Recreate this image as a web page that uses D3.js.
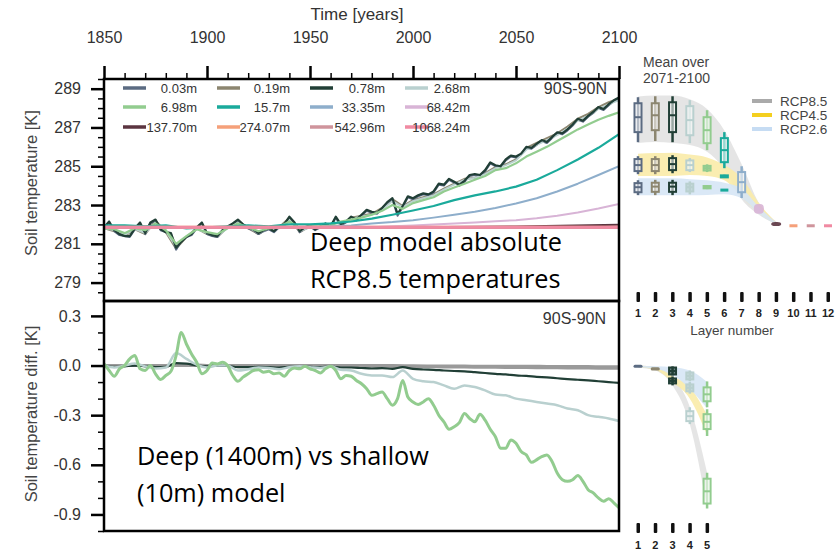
<!DOCTYPE html>
<html><head><meta charset="utf-8">
<script src="https://cdn.jsdelivr.net/npm/d3@7"></script>
<style>body{margin:0;background:#fff}svg{display:block}text{font-family:"Liberation Sans",Arial,sans-serif}</style>
</head><body><svg id="c" width="837" height="555"></svg>
<script>
// ---------------- DATA ----------------
const depthLabels = ["0.03m","0.19m","0.78m","2.68m","6.98m","15.7m","33.35m","68.42m","137.70m","274.07m","542.96m","1068.24m"];
const layerColors = ["#5b6b82","#8c8670","#213f36","#b9d0cf","#92cc8f","#1aaa9b","#8eaecb","#d8b4d6","#5b3440","#f5a07a","#cf949c","#f08aa2"];
const timeTicks = [1850,1900,1950,2000,2050,2100];
const topTicks = [279,281,283,285,287,289];
const botTicks = [-0.9,-0.6,-0.3,0.0,0.3];
const layerNumbers = [1,2,3,4,5,6,7,8,9,10,11,12];
const shallowLayerNumbers = [1,2,3,4,5];
const scenarios = ["RCP8.5","RCP4.5","RCP2.6"];
const scenarioColors = ["#aaaaaa","#f4cf1f","#c6dcf3"];

const yearsFine = d3.range(1850, 2100.1, 2.5);
const years5 = d3.range(1850, 2100.1, 5);
const years10 = d3.range(1850, 2100.1, 10);
const years50 = [1850,1900,1950,2000,2050,2100];

// Top panel: absolute soil temperature [K], RCP8.5, deep model
const t003 = [281.8,282.1,281.65,281.45,281.4,281.35,281.75,282.05,281.5,282.05,
282.2,281.7,281.6,281.5,280.7,281.15,281.35,281.45,281.8,282.05,
281.5,281.4,281.35,281.65,281.85,282.0,282.2,281.95,281.8,281.7,
281.5,281.65,281.75,281.6,281.85,281.95,282.35,282.05,281.6,281.8,
281.9,281.7,281.85,282.0,281.85,282.35,281.95,282.1,282.35,282.2,
282.45,282.7,282.6,282.55,282.8,283.1,283.3,282.45,282.9,283.4,
283.3,283.45,283.55,283.5,283.65,284.05,284.0,284.3,284.15,284.0,
284.2,284.5,284.55,284.5,284.75,285.15,285.0,284.95,285.3,285.5,
285.45,285.6,285.95,285.9,286.1,286.3,286.2,286.45,286.7,286.65,
286.85,287.1,287.4,287.3,287.55,287.75,288.0,287.9,288.15,288.35,
288.5];
const t019 = [281.8,281.65,281.4,281.75,281.5,282.2,281.6,280.75,281.35,281.8,
281.5,281.35,281.85,282.2,281.8,281.5,281.85,281.85,282.35,281.6,
281.9,281.85,281.85,281.95,282.35,282.45,282.55,282.85,283.3,282.95,
283.25,283.4,283.55,283.85,284.1,284.35,284.4,284.65,284.95,285.1,
285.35,285.95,286.2,286.45,286.7,287.05,287.45,287.7,288.05,288.3,
288.5];
const t078 = [281.85,282.15,281.7,281.5,281.4,281.4,281.8,282.1,281.55,282.1,
282.25,281.75,281.6,281.55,280.8,281.1,281.35,281.5,281.85,282.1,
281.55,281.45,281.4,281.7,281.9,282.05,282.25,282.0,281.85,281.75,
281.55,281.7,281.8,281.65,281.9,282.0,282.4,282.1,281.65,281.85,
281.95,281.75,281.9,282.05,281.9,282.4,282.0,282.15,282.4,282.25,
282.5,282.75,282.65,282.6,282.85,283.15,283.35,282.55,282.95,283.45,
283.35,283.5,283.6,283.55,283.7,284.1,284.05,284.35,284.2,284.05,
284.25,284.55,284.6,284.55,284.8,285.2,285.05,285.0,285.35,285.55,
285.5,285.65,286.0,285.95,286.15,286.35,286.25,286.5,286.75,286.7,
286.9,287.15,287.45,287.35,287.6,287.8,288.05,287.95,288.2,288.4,
288.55];
const t268 = [281.8,281.7,281.45,281.75,281.55,282.1,281.65,280.85,281.35,281.75,
281.55,281.4,281.8,282.1,281.85,281.55,281.8,281.8,282.25,281.65,
281.85,281.85,281.85,282.0,282.3,282.4,282.5,282.75,283.2,282.9,
283.2,283.35,283.5,283.8,284.05,284.3,284.4,284.6,284.9,285.05,
285.3,285.85,286.1,286.35,286.6,286.95,287.35,287.6,287.95,288.2,
288.4];
const t698 = [281.8,281.75,281.55,281.8,281.7,282.05,281.7,281.0,281.4,281.75,
281.6,281.5,281.8,282.05,281.85,281.65,281.8,281.85,282.15,281.8,
281.9,281.9,281.95,282.15,282.25,282.35,282.5,282.7,283.0,282.8,
283.1,283.25,283.4,283.7,283.9,284.1,284.3,284.5,284.8,284.9,
285.15,285.5,285.75,286.0,286.3,286.6,286.9,287.15,287.4,287.6,
287.78];
const t157 = [281.95,281.95,281.9,281.95,281.8,281.85,281.9,281.95,281.9,282.0,282.0,282.05,282.15,282.3,282.5,282.72,282.95,283.25,283.5,283.7,283.95,284.3,284.8,285.35,285.95,286.65];
const t3335 = [281.85,281.85,281.85,281.85,281.85,281.85,281.85,281.85,281.85,281.85,281.85,281.9,281.95,282.05,282.12,282.22,282.35,282.5,282.65,282.85,283.08,283.35,283.7,284.1,284.55,285.0];
const t6842 = [281.85,281.85,281.85,281.85,281.85,281.85,281.85,281.85,281.85,281.85,281.85,281.85,281.85,281.85,281.9,281.95,282.0,282.05,282.1,282.16,282.22,282.32,282.45,282.62,282.82,283.05];
const t13770 = [281.84,281.84,281.84,281.85,281.89,281.98];
const t27407 = [281.86,281.86,281.86,281.86,281.86,281.86];
const t54296 = [281.84,281.84,281.84,281.84,281.84,281.84];
const t106824 = [281.85,281.85,281.85,281.85,281.85,281.85];

// Bottom panel: deep minus shallow model difference [K]
const d003 = [0,0,0,0,0,0,0,0,0,0,0,0,0,0,0,-0.002,-0.003,-0.003,-0.004,-0.004,-0.005,-0.005,-0.006,-0.006,-0.007,-0.007];
const d019 = [0,0,0,0,0.005,0,0,0,0,0,0,0,-0.002,-0.004,-0.006,-0.007,-0.008,-0.009,-0.01,-0.011,-0.012,-0.013,-0.014,-0.015,-0.016,-0.017];
const d078 = [0.0,-0.008,-0.005,0.0,-0.005,-0.01,-0.008,0.015,0.012,0.0,
-0.005,0.0,-0.002,-0.01,-0.01,-0.008,-0.01,-0.012,-0.008,-0.006,
-0.008,-0.01,-0.006,-0.012,-0.012,-0.015,-0.018,-0.016,-0.02,-0.01,
-0.02,-0.024,-0.026,-0.03,-0.033,-0.035,-0.04,-0.045,-0.05,-0.054,
-0.06,-0.063,-0.068,-0.072,-0.077,-0.082,-0.086,-0.09,-0.095,-0.1,
-0.105];
const d268 = [0.0,-0.012,0.0,0.012,-0.005,-0.018,-0.012,0.075,0.04,0.005,
-0.012,0.0,0.0,-0.03,-0.022,-0.012,-0.015,-0.022,-0.01,-0.005,
-0.01,-0.015,-0.005,-0.025,-0.03,-0.05,-0.06,-0.06,-0.07,-0.03,
-0.08,-0.095,-0.1,-0.12,-0.14,-0.12,-0.13,-0.15,-0.175,-0.18,
-0.2,-0.21,-0.22,-0.23,-0.24,-0.26,-0.27,-0.3,-0.31,-0.32,
-0.335];
const d698 = [0.01,-0.03,-0.065,-0.02,0.0,0.04,0.06,-0.02,-0.03,0.0,
-0.05,-0.085,-0.06,-0.035,0.06,0.2,0.13,0.07,0.02,-0.05,
-0.03,0.015,0.01,0.02,0.0,-0.06,-0.095,-0.07,-0.05,-0.03,
-0.025,-0.04,-0.035,-0.05,-0.045,-0.065,-0.03,-0.015,-0.02,-0.005,
-0.02,-0.03,-0.045,-0.02,-0.005,-0.03,-0.08,-0.06,-0.065,-0.09,
-0.11,-0.14,-0.18,-0.17,-0.16,-0.2,-0.24,-0.2,-0.09,-0.19,
-0.22,-0.235,-0.22,-0.2,-0.24,-0.3,-0.34,-0.385,-0.37,-0.345,
-0.29,-0.32,-0.34,-0.295,-0.33,-0.385,-0.43,-0.5,-0.5,-0.45,
-0.47,-0.52,-0.54,-0.585,-0.57,-0.55,-0.54,-0.58,-0.65,-0.69,
-0.7,-0.69,-0.665,-0.7,-0.75,-0.77,-0.8,-0.82,-0.805,-0.83,
-0.86];

// Right panels: 2071-2100 means per layer [lo, q1, median, q3, hi]
const top85 = [[286.24,286.76,287.53,288.25,288.56],[286.30,286.86,287.63,288.25,288.61],[286.24,286.76,287.63,288.30,288.61],[286.19,286.60,287.38,288.10,288.41],[285.83,286.19,286.86,287.53,287.89],[284.90,285.21,285.83,286.45,286.76],[283.36,283.66,284.18,284.70,285.00],[282.55,282.62,282.79,282.98,283.05],[282.00,282.03,282.07,282.10,282.13],[281.93,281.93,281.93,281.93,281.93],[281.93,281.93,281.93,281.93,281.93],[281.93,281.93,281.93,281.93,281.93]];
const top45 = [[284.59,284.75,285.06,285.37,285.52],[284.59,284.75,285.06,285.37,285.52],[284.64,284.80,285.11,285.42,285.57],[284.70,284.80,285.06,285.30,285.42],[284.70,284.78,284.90,285.02,285.10],[284.42,284.45,284.49,284.53,284.56]];
const top26 = [[283.51,283.66,283.92,284.13,284.28],[283.51,283.68,283.95,284.15,284.30],[283.51,283.68,283.95,284.15,284.30],[283.55,283.70,283.92,284.10,284.22],[283.82,283.86,283.92,283.98,284.02],[283.74,283.76,283.77,283.79,283.80]];
const band85TopLo = [286.2,286.25,286.2,286.1,285.75,284.85,283.3,282.5,282.0];
const band85TopHi = [288.6,288.65,288.65,288.45,287.95,286.85,285.1,283.1,282.15];
const band45TopLo = [284.5,284.5,284.5,284.55,284.5,284.28,283.41,282.58,282.0];
const band45TopHi = [285.65,285.68,285.7,285.6,285.45,285.06,284.39,283.1,282.1];
const band26TopLo = [283.5,283.5,283.5,283.5,283.52,283.55,283.35,282.55,282.0];
const band26TopHi = [284.38,284.38,284.38,284.33,284.28,284.15,283.85,282.9,282.1];

const bot85 = [[-0.008,-0.007,-0.005,-0.003,-0.002],[-0.03,-0.027,-0.02,-0.013,-0.01],[-0.12,-0.108,-0.093,-0.078,-0.066],[-0.354,-0.336,-0.306,-0.276,-0.252],[-0.864,-0.834,-0.76,-0.684,-0.648]];
const bot45 = [null,null,[-0.06,-0.054,-0.033,-0.012,-0.005],[-0.17,-0.156,-0.135,-0.114,-0.1],[-0.426,-0.384,-0.34,-0.294,-0.264]];
const bot26 = [null,null,null,[-0.095,-0.084,-0.063,-0.042,-0.03],[-0.252,-0.216,-0.174,-0.132,-0.096]];
const band85BotLo = [-0.012,-0.03,-0.12,-0.355,-0.865];
const band85BotHi = [0.0,-0.008,-0.066,-0.25,-0.648];
const band45BotLo = [-0.01,-0.025,-0.1,-0.2,-0.42];
const band45BotHi = [0.0,-0.01,-0.065,-0.13,-0.3];
const band26BotLo = [-0.01,-0.02,-0.055,-0.14,-0.26];
const band26BotHi = [0.0,-0.005,-0.01,-0.03,-0.1];

// ---------------- DRAW ----------------
const svg = d3.select("#c");
const x = d3.scaleLinear([1850,2100],[104,619]);
const yTop = d3.scaleLinear([278.05,289.5],[301,79]);
const yBot = d3.scaleLinear([-1.0,0.39],[531,301]);
const xL = d3.scaleLinear([1,12],[638,828]);

const defs = svg.append("defs");
defs.append("clipPath").attr("id","clipTop").append("rect").attr("x",104).attr("y",79).attr("width",515).attr("height",222);
defs.append("clipPath").attr("id","clipBot").append("rect").attr("x",104).attr("y",301).attr("width",515).attr("height",230);

const topSeries = [
  [years5,t019],[yearsFine,t003],[years5,t268],[yearsFine,t078],[years5,t698],[years10,t157],
  [years10,t3335],[years10,t6842],[years50,t13770],[years50,t27407],[years50,t54296],[years50,t106824]
];
const topIdx = [1,0,3,2,4,5,6,7,8,9,10,11];
const topWidths = [2,2,2.2,1.8,2.2,2.2,2,2,2,3,3,3];
const gTop = svg.append("g").attr("clip-path","url(#clipTop)");
topSeries.forEach((s,k)=>{
  const li = topIdx[k];
  const pts = s[0].map((yr,i)=>[yr,s[1][i]]);
  gTop.append("path").datum(pts)
    .attr("fill","none").attr("stroke",layerColors[li]).attr("stroke-width",topWidths[li])
    .attr("stroke-linejoin","round")
    .attr("d",d3.line().x(d=>x(d[0])).y(d=>yTop(d[1])));
});

const botSeries = [[years10,d019,1,3],[years10,d003,0,3],[years5,d078,2,2.2],[years5,d268,3,2.5],[yearsFine,d698,4,3]];
const gBot = svg.append("g").attr("clip-path","url(#clipBot)");
botSeries.forEach(s=>{
  const pts = s[0].map((yr,i)=>[yr,s[1][i]]);
  gBot.append("path").datum(pts)
    .attr("fill","none").attr("stroke",s[2]<2?"#9a9a9a":layerColors[s[2]]).attr("stroke-width",s[3])
    .attr("stroke-linejoin","round")
    .attr("d",d3.line().x(d=>x(d[0])).y(d=>yBot(d[1])).curve(d3.curveMonotoneX));
});

// frames
svg.append("rect").attr("x",104).attr("y",79).attr("width",515).attr("height",222).attr("fill","none").attr("stroke","#000").attr("stroke-width",2.5);
svg.append("rect").attr("x",104).attr("y",301).attr("width",515).attr("height",230).attr("fill","none").attr("stroke","#000").attr("stroke-width",2.5);

function styleAxis(g, w, withText){
  g.select(".domain").remove();
  g.selectAll(".tick line").attr("stroke","#000").attr("stroke-width",w);
  if(withText) g.selectAll(".tick text").attr("fill","#333").style("font-size","16px").style("font-family","'Liberation Sans',Arial,sans-serif");
}
// top time axis
svg.append("g").attr("transform","translate(0,79)")
  .call(d3.axisTop(x).tickValues(d3.range(1850,2101,10).filter(v=>v%50)).tickSize(6).tickFormat(""))
  .call(g=>styleAxis(g,1.5,false));
svg.append("g").attr("transform","translate(0,79)")
  .call(d3.axisTop(x).tickValues(timeTicks).tickSize(13).tickPadding(23).tickFormat(d3.format("d")))
  .call(g=>styleAxis(g,2.5,true));
svg.append("text").attr("x",357).attr("y",20).attr("text-anchor","middle").attr("fill","#333").style("font-size","17px").text("Time [years]");

// left axes
svg.append("g").attr("transform","translate(104,0)")
  .call(d3.axisLeft(yTop).tickValues(d3.range(278.5,289.6,0.5).filter(v=>!topTicks.includes(v))).tickSize(6).tickFormat(""))
  .call(g=>styleAxis(g,1.5,false));
svg.append("g").attr("transform","translate(104,0)")
  .call(d3.axisLeft(yTop).tickValues(topTicks).tickSize(13).tickPadding(10).tickFormat(d3.format("d")))
  .call(g=>styleAxis(g,2.5,true));
const botMinor = d3.range(-10,4).map(v=>v/10).filter(v=>Math.round(v*10)%3!==0);
svg.append("g").attr("transform","translate(104,0)")
  .call(d3.axisLeft(yBot).tickValues(botMinor).tickSize(6).tickFormat(""))
  .call(g=>styleAxis(g,1.5,false));
svg.append("g").attr("transform","translate(104,0)")
  .call(d3.axisLeft(yBot).tickValues(botTicks).tickSize(13).tickPadding(10).tickFormat(d=>d3.format(".1f")(d).replace("−","-")))
  .call(g=>styleAxis(g,2.5,true));

svg.append("text").attr("transform","translate(31,183) rotate(-90)").attr("text-anchor","middle").attr("dominant-baseline","central").attr("fill","#444").style("font-size","16.5px").text("Soil temperature [K]");
svg.append("text").attr("transform","translate(31,414) rotate(-90)").attr("text-anchor","middle").attr("dominant-baseline","central").attr("fill","#444").style("font-size","16.5px").text("Soil temperature diff. [K]");

svg.append("text").attr("x",607).attr("y",94).attr("text-anchor","end").attr("fill","#333").style("font-size","16px").text("90S-90N");
svg.append("text").attr("x",606).attr("y",324).attr("text-anchor","end").attr("fill","#333").style("font-size","16px").text("90S-90N");

// legend (top-left)
const legLineX = [123,217,310,405];
const legTextX = [197,290,385,470];
const legRowY = [88,107,127];
depthLabels.forEach((lab,i)=>{
  const c=i%4, r=Math.floor(i/4);
  svg.append("line").attr("x1",legLineX[c]).attr("x2",legLineX[c]+23).attr("y1",legRowY[r]).attr("y2",legRowY[r])
    .attr("stroke",layerColors[i]).attr("stroke-width",3.5);
  svg.append("text").attr("x",legTextX[c]).attr("y",legRowY[r]).attr("dominant-baseline","central").attr("text-anchor","end")
    .attr("fill","#333").style("font-size","13px").text(lab);
});

// annotations
const probe = svg.append("text").style("font-family","'Open Sans'").style("font-size","100px").text("Deep model absolute");
const annSize = 100*252/probe.node().getComputedTextLength();
probe.remove();
[["Deep model absolute",310,251],["RCP8.5 temperatures",310,288],["Deep (1400m) vs shallow",137,465],["(10m) model",137,502]].forEach(a=>{
  svg.append("text").attr("x",a[1]).attr("y",a[2]).attr("fill","#000").style("font-family","'Open Sans'").style("font-size",annSize+"px").text(a[0]);
});

// ---------- right panels ----------
const bandColors = ["#e2e2e2","#f9eba8","#d6e5f5"];
function drawBand(lo,hi,ys,col){
  const pts = lo.map((v,i)=>[i+1,v,hi[i]]);
  svg.append("path").datum(pts).attr("fill",col).attr("opacity",0.9)
    .attr("d",d3.area().x(d=>xL(d[0])).y0(d=>ys(d[1])).y1(d=>ys(d[2])).curve(d3.curveMonotoneX));
}
drawBand(band85TopLo,band85TopHi,yTop,bandColors[0]);
drawBand(band45TopLo,band45TopHi,yTop,bandColors[1]);
drawBand(band26TopLo,band26TopHi,yTop,bandColors[2]);
drawBand(band85BotLo,band85BotHi,yBot,bandColors[0]);
drawBand(band45BotLo,band45BotHi,yBot,bandColors[1]);
drawBand(band26BotLo,band26BotHi,yBot,bandColors[2]);

function drawBox(layer, s, ys, col){
  const cx = xL(layer), bw = 7;
  const yLo = ys(s[0]), yHi = ys(s[4]), yq1 = ys(s[1]), yq3 = ys(s[3]), ym = ys(s[2]);
  if (yLo - yHi < 1.5){ // dash
    svg.append("rect").attr("x",cx-4).attr("y",ym-1.5).attr("width",8).attr("height",3).attr("fill",col);
    return;
  }
  if (layer>=8){ // blob
    svg.append("rect").attr("x",cx-5).attr("y",yHi).attr("width",10).attr("height",Math.max(4,yLo-yHi)).attr("rx",4).attr("fill",col).attr("opacity",0.9);
    return;
  }
  svg.append("line").attr("x1",cx).attr("x2",cx).attr("y1",yLo).attr("y2",yHi).attr("stroke",col).attr("stroke-width",2.5);
  const small = (yq1-yq3) < 9;
  svg.append("rect").attr("x",cx-bw/2).attr("y",yq3).attr("width",bw).attr("height",Math.max(2,yq1-yq3))
    .attr("fill",small?col:"#ffffff").attr("fill-opacity",small?0.6:0.55).attr("stroke",col).attr("stroke-width",2);
  svg.append("line").attr("x1",cx-bw/2).attr("x2",cx+bw/2).attr("y1",ym).attr("y2",ym).attr("stroke",col).attr("stroke-width",2);
}
top26.forEach((s,i)=>drawBox(i+1,s,yTop,layerColors[i]));
top45.forEach((s,i)=>drawBox(i+1,s,yTop,layerColors[i]));
top85.forEach((s,i)=>drawBox(i+1,s,yTop,layerColors[i]));
bot26.forEach((s,i)=>{ if(s) drawBox(i+1,s,yBot,layerColors[i]); });
bot45.forEach((s,i)=>{ if(s) drawBox(i+1,s,yBot,layerColors[i]); });
bot85.forEach((s,i)=>{
  if(i<2){
    const cx=xL(i+1), ym=yBot(s[2]), h=Math.max(3,yBot(s[0])-yBot(s[4]));
    svg.append("rect").attr("x",cx-4.5).attr("y",ym-h/2).attr("width",9).attr("height",h).attr("rx",1.5).attr("fill",layerColors[i]);
  } else drawBox(i+1,s,yBot,layerColors[i]);
});

// layer axes
layerNumbers.forEach(n=>{
  svg.append("rect").attr("x",xL(n)-1.5).attr("y",292).attr("width",3.5).attr("height",10).attr("rx",1).attr("fill","#111");
  svg.append("text").attr("x",xL(n)).attr("y",313).attr("text-anchor","middle").attr("dominant-baseline","central")
    .attr("fill","#222").style("font-size","11px").style("font-weight","bold").text(n);
});
shallowLayerNumbers.forEach(n=>{
  svg.append("rect").attr("x",xL(n)-1.5).attr("y",523).attr("width",3.5).attr("height",10).attr("rx",1).attr("fill","#111");
  svg.append("text").attr("x",xL(n)).attr("y",545).attr("text-anchor","middle").attr("dominant-baseline","central")
    .attr("fill","#222").style("font-size","11px").style("font-weight","bold").text(n);
});
svg.append("text").attr("x",732).attr("y",330).attr("text-anchor","middle").attr("dominant-baseline","central").attr("fill","#444").style("font-size","13.5px").text("Layer number");
svg.append("text").attr("x",643).attr("y",62).attr("dominant-baseline","central").attr("fill","#444").style("font-size","14px").text("Mean over");
svg.append("text").attr("x",643).attr("y",78).attr("dominant-baseline","central").attr("fill","#444").style("font-size","14px").text("2071-2100");

// scenario legend
const scenY = [101,115,129];
scenarios.forEach((s,i)=>{
  svg.append("line").attr("x1",752).attr("x2",772).attr("y1",scenY[i]).attr("y2",scenY[i]).attr("stroke",scenarioColors[i]).attr("stroke-width",4);
  svg.append("text").attr("x",780).attr("y",scenY[i]).attr("dominant-baseline","central").attr("fill","#444").style("font-size","13.5px").text(s);
});
</script></body></html>
